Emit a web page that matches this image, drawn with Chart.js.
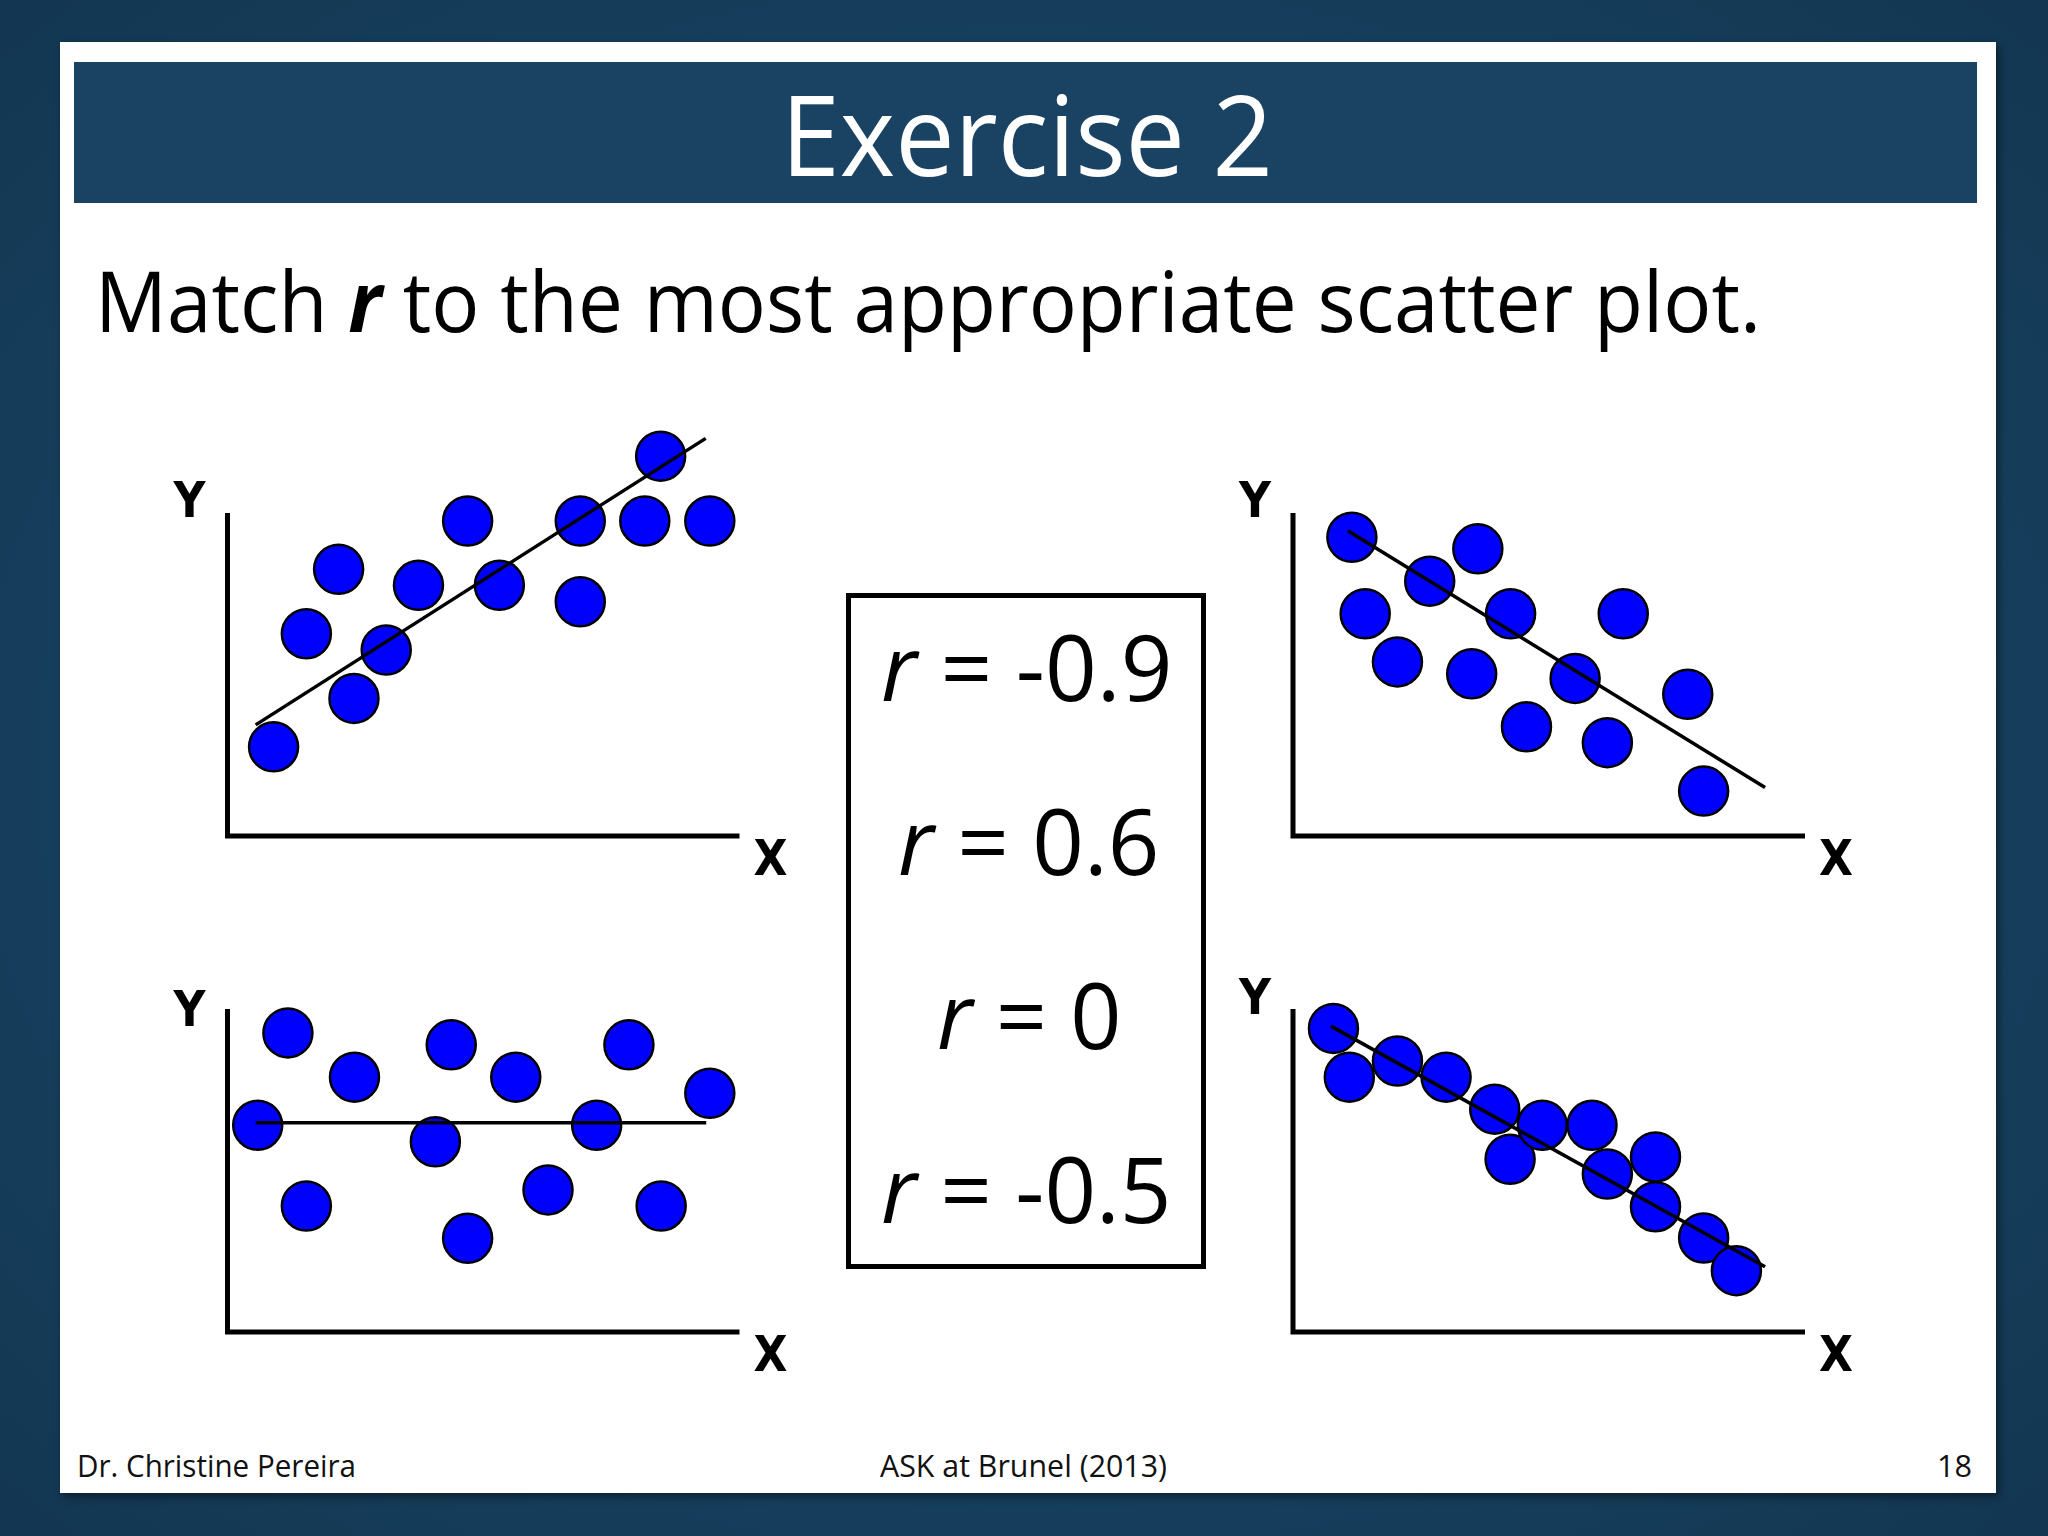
<!DOCTYPE html>
<html>
<head>
<meta charset="utf-8">
<script src="https://cdn.jsdelivr.net/npm/chart.js@4.4.1/dist/chart.umd.min.js"></script>
<style>
  html, body { margin:0; padding:0; width:2048px; height:1536px; overflow:hidden; }
  body { position:relative; background: radial-gradient(ellipse 75% 75% at 50% 50%, #1b4768 0%, #174160 55%, #12354f 100%); font-family:"Open Sans", sans-serif; }
  #panel { position:absolute; left:60px; top:42px; width:1936px; height:1451px; background:#fff; box-shadow:3px 4px 8px rgba(0,0,0,0.45); }
  #titlebar { position:absolute; left:74px; top:62px; width:1903px; height:141px; background:#1a4363; }
  .txt { position:absolute; left:0; top:0; white-space:nowrap; transform-origin:0 0; line-height:1.2; }
  #rbox { position:absolute; left:846px; top:593px; width:360px; height:676px; border:5px solid #000; box-sizing:border-box; }
  canvas.plot { position:absolute; }
</style>
</head>
<body>
<div id="panel"></div>
<div id="titlebar"></div>
<div id="title" class="txt" style="font-size:112px;color:#fff;">Exercise 2</div>
<div id="subtitle" class="txt" style="font-size:84px;color:#000;">Match <b><i>r</i></b> to the most appropriate scatter plot.</div>
<div id="rbox"></div>
<div id="footL" class="txt" style="font-size:31px;color:#111;">Dr. Christine Pereira</div>
<div id="footC" class="txt" style="font-size:31px;color:#111;">ASK at Brunel (2013)</div>
<div id="footR" class="txt" style="font-size:31px;color:#111;">18</div>

<canvas id="plotA" class="plot" width="680" height="500"></canvas>
<canvas id="plotB" class="plot" width="680" height="500"></canvas>
<canvas id="plotC" class="plot" width="680" height="500"></canvas>
<canvas id="plotD" class="plot" width="680" height="500"></canvas>

<script>
// ---------- DATA (axis units: 0..10 along each drawn axis) ----------
// Plot A (top-left): moderate positive
const plotAX = [0.90, 1.54, 2.17, 2.47, 3.10, 3.73, 4.69, 5.31, 6.89, 6.89, 8.46, 8.15, 9.42];
const plotAY = [2.76, 6.26, 8.26, 4.26, 5.76, 7.76, 9.75, 7.76, 9.75, 7.25, 11.76, 9.75, 9.75];
const lineAX = [0.55, 9.34];
const lineAY = [3.44, 12.31];

// Plot B (top-right): moderate negative
const plotBX = [1.15, 3.61, 2.67, 1.41, 4.25, 6.45, 2.04, 3.49, 5.51, 7.71, 4.56, 6.14, 8.02];
const plotBY = [9.25, 8.89, 7.89, 6.88, 6.88, 6.88, 5.39, 5.02, 4.88, 4.39, 3.38, 2.89, 1.39];
const lineBX = [1.07, 9.22];
const lineBY = [9.45, 1.50];

// Plot C (bottom-left): no correlation
const plotCX = [1.18, 2.48, 0.59, 1.54, 4.37, 5.63, 4.06, 4.69, 6.26, 7.21, 7.84, 9.42, 8.47];
const plotCY = [9.26, 7.89, 6.40, 3.90, 8.89, 7.89, 5.89, 2.90, 4.40, 6.40, 8.89, 7.39, 3.90];
const lineCX = [0.55, 9.35];
const lineCY = [6.48, 6.48];

// Plot D (bottom-right): strong negative
const plotDX = [0.79, 1.10, 2.04, 2.99, 3.94, 4.24, 4.87, 5.84, 6.14, 7.08, 7.08, 8.02, 8.66];
const plotDY = [9.40, 7.89, 8.39, 7.89, 6.90, 5.35, 6.40, 6.40, 4.89, 5.42, 3.88, 2.91, 1.90];
const lineDX = [0.74, 9.22];
const lineDY = [9.47, 2.02];

const axisLabels = ['X', 'Y'];
const rLabels = ['-0.9', '0.6', '0', '-0.5'];

// ---------- LAYOUT ----------
const PX_PER_X = 51.2, PX_PER_Y = 32.3;
const CW = 680, CH = 500;
const plots = [
  { id:'plotA', ox:227.5, oy:836,  xs:plotAX, ys:plotAY, lx:lineAX, ly:lineAY, yDy:4 },
  { id:'plotB', ox:1293,  oy:836,  xs:plotBX, ys:plotBY, lx:lineBX, ly:lineBY, yDy:4 },
  { id:'plotC', ox:227.5, oy:1332, xs:plotCX, ys:plotCY, lx:lineCX, ly:lineCY, yDy:17 },
  { id:'plotD', ox:1293,  oy:1332, xs:plotDX, ys:plotDY, lx:lineDX, ly:lineDY, yDy:5 }
];

const axesPlugin = {
  id: 'slideAxes',
  beforeDatasetsDraw(chart, args, opts) {
    const { ctx } = chart;
    const sx = chart.scales.x, sy = chart.scales.y;
    const x0 = sx.getPixelForValue(0), y0 = sy.getPixelForValue(0);
    const xE = sx.getPixelForValue(opts.xLen), yT = sy.getPixelForValue(opts.yLen);
    ctx.save();
    ctx.strokeStyle = '#000';
    ctx.lineWidth = 5;
    ctx.lineJoin = 'miter';
    ctx.lineCap = 'butt';
    ctx.beginPath();
    ctx.moveTo(x0, yT);
    ctx.lineTo(x0, y0);
    ctx.lineTo(xE, y0);
    ctx.stroke();
    ctx.fillStyle = '#000';
    ctx.font = 'bold 49px "Liberation Sans Narrow", "DejaVu Sans Condensed", "Liberation Sans", sans-serif';
    ctx.textAlign = 'center';
    ctx.textBaseline = 'alphabetic';
    ctx.fillText(opts.yTitle, x0 - 38, yT + opts.yTitleDy);
    ctx.fillText(opts.xTitle, xE + 31, y0 + 39);
    ctx.restore();
  }
};

plots.forEach(p => {
  const left = Math.round(p.ox - 80);
  const top = Math.round(p.oy - 440);
  const cv = document.getElementById(p.id);
  cv.style.left = left + 'px';
  cv.style.top = top + 'px';
  const xmin = (left - p.ox) / PX_PER_X;
  const xmax = (left + CW - p.ox) / PX_PER_X;
  const ymax = (p.oy - top) / PX_PER_Y;
  const ymin = (p.oy - (top + CH)) / PX_PER_Y;
  const pts = p.xs.map((x, i) => ({ x, y: p.ys[i] }));
  const linePts = p.lx.map((x, i) => ({ x, y: p.ly[i] }));
  new Chart(cv, {
    type: 'scatter',
    data: {
      datasets: [
        { type:'line', data: linePts, borderColor:'#000', borderWidth:3.5, pointRadius:0, pointHoverRadius:0, fill:false, order:0, clip:false },
        { type:'scatter', data: pts, backgroundColor:'#0000ff', borderColor:'#000', borderWidth:2.5, pointRadius:24.5, pointHoverRadius:24.5, order:1, clip:false }
      ]
    },
    options: {
      responsive: false,
      animation: false,
      devicePixelRatio: 1,
      layout: { padding: 0, autoPadding: false },
      events: [],
      scales: {
        x: { type:'linear', display:false, min:xmin, max:xmax },
        y: { type:'linear', display:false, min:ymin, max:ymax }
      },
      plugins: {
        legend: { display:false },
        tooltip: { enabled:false },
        slideAxes: { xLen:10, yLen:10, xTitle: axisLabels[0], yTitle: axisLabels[1], yTitleDy: p.yDy }
      }
    },
    plugins: [axesPlugin]
  });
});

// ---------- r-value text lines ----------
const rTargets = [
  { l:882.5, r:1170,   base:701.4 },
  { l:899.5, r:1157,   base:874.6 },
  { l:938.5, r:1119,   base:1048.8 },
  { l:882.5, r:1169,   base:1222.9 }
];
rLabels.forEach((lab, i) => {
  const d = document.createElement('div');
  d.className = 'txt';
  d.id = 'r' + i;
  d.style.fontSize = '92px';
  d.style.color = '#000';
  d.innerHTML = '<i>r</i> = ' + lab;
  document.body.appendChild(d);
});

function place(id, left, right, baseline) {
  const el = document.getElementById(id);
  el.style.transform = 'none';
  el.style.left = '0px'; el.style.top = '0px';
  const mk = document.createElement('span');
  mk.style.cssText = 'display:inline-block;width:0;height:0;vertical-align:baseline;';
  el.appendChild(mk);
  const r = el.getBoundingClientRect();
  const m = mk.getBoundingClientRect();
  const baseOff = m.top - r.top;
  const sx = (right - left) / r.width;
  el.style.left = left + 'px';
  el.style.top = (baseline - baseOff) + 'px';
  el.style.transform = 'scaleX(' + sx + ')';
}

function layoutText() {
  place('title', 781, 1273, 176);
  place('subtitle', 95, 1761, 332);
  place('footL', 77, 356, 1477);
  place('footC', 880, 1167, 1477);
  place('footR', 1937, 1972, 1477);
  rTargets.forEach((t, i) => place('r' + i, t.l - 2, t.r + 2, t.base));
}
layoutText();
</script>
</body>
</html>
